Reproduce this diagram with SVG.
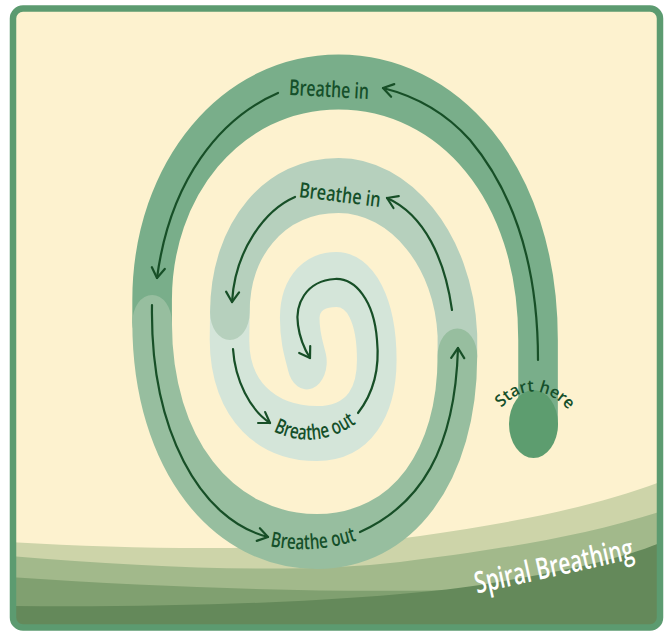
<svg xmlns="http://www.w3.org/2000/svg" width="669" height="631" viewBox="0 0 669 631">
<defs>
<style>
.band{fill:none;stroke-width:55;stroke-linecap:round;stroke-linejoin:round}
.ln{fill:none;stroke:#174f27;stroke-width:2.2;stroke-linecap:round;marker-end:url(#ah)}
.lbl{font-family:"Open Sans","Liberation Sans",sans-serif;font-weight:600;fill:#15502a}
.ttl{font-family:"Open Sans","Liberation Sans",sans-serif;font-weight:600;fill:#ffffff}
</style>
<marker id="ah" viewBox="-12 -8 14 16" refX="0" refY="0" markerWidth="14" markerHeight="16" markerUnits="userSpaceOnUse" orient="auto">
<path d="M-10,-6.5 L0,0 L-10,6.5" fill="none" stroke="#174f27" stroke-width="2.2" stroke-linecap="round" stroke-linejoin="round"/>
</marker>
<clipPath id="inner"><rect x="13" y="8.5" width="647" height="619" rx="10"/></clipPath>
<path id="p-in-out" d="M256,421 Q315,463 372,411"/>
<path id="p-out-out" d="M250,541 Q313,561 376,533"/>
<path id="p-start" d="M492,419 Q533,363 578,421"/>
</defs>

<rect x="13" y="8.5" width="647" height="619" rx="10" fill="#fdf2cf"/>

<g id="hills" clip-path="url(#inner)">
<path d="M10,542 C150,550 300,552 420,536 C520,522 600,505 665,480 L665,631 L10,631 Z" fill="#cdd4a9"/>
<path d="M10,556 C150,568 300,574 400,562 C480,552 580,538 665,510 L665,631 L10,631 Z" fill="#a2b98b"/>
<path d="M10,577 C200,590 380,594 520,588 C580,585 620,575 665,560 L665,631 L10,631 Z" fill="#80a070"/>
<path d="M10,606 C200,608 380,600 480,585 C560,572 620,560 665,541 L665,631 L10,631 Z" fill="#64895a"/>
</g>

<g id="spiral" transform="matrix(0.72,0,0,1,93.8,0)">
<g id="band-lightest"><path class="band" stroke="#d4e5d9" d="M189,312 L188.5,340 C188.5,400 240,433.5 310,433.5 C370,433.5 393,400 393,360 C393,310 370,279.5 337,279.5 C305,279.5 286,295 286,318 C286,340 293,352 296,362"/></g>
<g id="band-light"><path class="band" stroke="#b6d0bd" d="M505,356 L505,335 C500,250 425,185.5 340,185.5 C250,185.5 189,240 189,312.5"/></g>
<g id="band-dark"><path class="band" stroke="#79ae8a" d="M617,424 L617,340 C617,180 490,82 340,82 C190,82 81,180 81,300 L81,322"/></g>
<g id="band-medium"><path class="band" stroke="#97be9f" d="M81,322.5 C81,455 180,541.5 310,541.5 C430,541.5 505,465 505,356"/></g>
</g>

<g id="start-node"><ellipse cx="533.5" cy="424" rx="24.5" ry="34" fill="#5d9d6f"/></g>

<g id="connectors">
<path class="ln" d="M538,360 C538,280 520,200 470,140 C445,112 415,96 383,88"/>
<path class="ln" d="M278,93 C220,118 170,180 157,278"/>
<path class="ln" d="M152,305 C150,430 200,520 268,537"/>
<path class="ln" d="M360,532 C420,505 455,450 458,348"/>
<path class="ln" d="M452,310 C445,260 425,215 387,198"/>
<path class="ln" d="M295,197 C265,210 235,250 232,302"/>
<path class="ln" d="M233,349 C235,380 250,410 270,423"/>
<path class="ln" d="M358,413 C372,395 380,370 377,340 C374,300 355,278 335,279 C305,281 295,305 298,325 C300,340 305,350 310,358"/>
</g>

<g id="label-breathe-in-outer"><text class="lbl" x="329" y="97" transform="rotate(3 329 90)" font-size="22" text-anchor="middle" textLength="80" lengthAdjust="spacingAndGlyphs">Breathe in</text></g>
<g id="label-breathe-in-inner"><text class="lbl" x="340" y="202" transform="rotate(7 340 195)" font-size="21" text-anchor="middle" textLength="82" lengthAdjust="spacingAndGlyphs">Breathe in</text></g>
<g id="label-breathe-out-inner"><text class="lbl" font-size="21"><textPath href="#p-in-out" startOffset="50%" text-anchor="middle" textLength="88" lengthAdjust="spacingAndGlyphs">Breathe out</textPath></text></g>
<g id="label-breathe-out-outer"><text class="lbl" font-size="21"><textPath href="#p-out-out" startOffset="50%" text-anchor="middle" textLength="88" lengthAdjust="spacingAndGlyphs">Breathe out</textPath></text></g>
<g id="label-start"><text class="lbl" font-size="16.5"><textPath href="#p-start" startOffset="50%" text-anchor="middle" textLength="78" lengthAdjust="spacingAndGlyphs">Start here</textPath></text></g>
<g id="title"><text class="ttl" x="556" y="576" transform="rotate(-12.5 556 576)" font-size="30" text-anchor="middle" textLength="162" lengthAdjust="spacingAndGlyphs">Spiral Breathing</text></g>

<rect x="13" y="8.5" width="647" height="619" rx="10" fill="none" stroke="#5c9b70" stroke-width="6.5"/>
</svg>
